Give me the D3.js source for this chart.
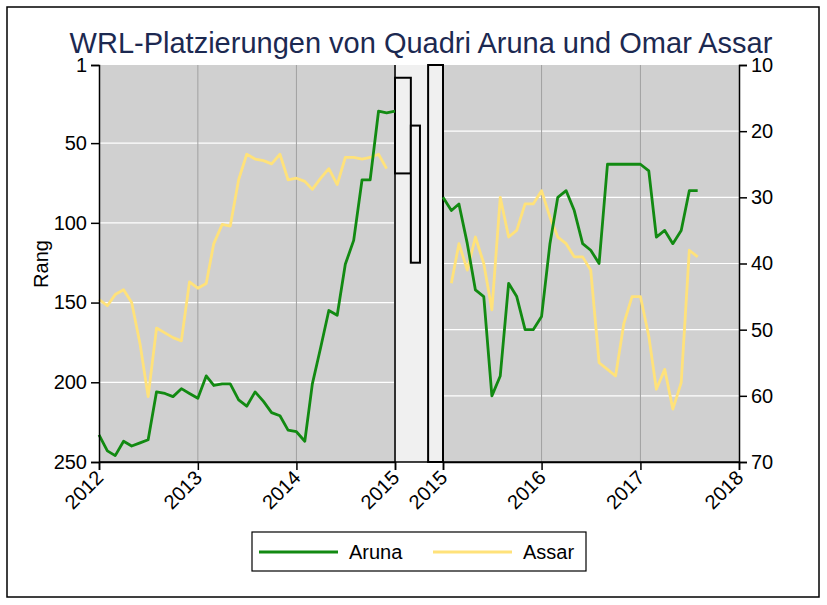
<!DOCTYPE html>
<html>
<head>
<meta charset="utf-8">
<script src="https://cdn.jsdelivr.net/npm/d3@7"></script>
<style>
  body { margin: 0; background: #fff; }
  text { font-family: "Liberation Sans", Arial, sans-serif; }
</style>
</head>
<body>
<script>
// Ränge Aruna / Assar, monatlich
const arunaLeft = [233,243,246,237,240,238,236,206,207,209,204,207,210,196,202,201,201,211,215,206,212,219,221,230,231,237,201,178,155,158,126,111,73,73,30,31,30];
const assarLeft = [148,152,145,142,150,176,209,166,169,172,174,137,141,138,113,101,102,73,57,60,61,63,57,73,72,74,79,72,66,76,59,59,60,59,57,66];
const arunaRight = [30,32,31,37,44,45,60,57,43,45,50,50,48,37,30,29,32,37,38,40,25,25,25,25,25,26,36,35,37,35,29,29];
const assarRight = [null,43,37,41,36,40,47,30,36,35,31,31,29,33,36,37,39,39,41,55,56,57,49,45,45,51,59,56,62,58,38,39];

const leftYTicks = [1, 50, 100, 150, 200, 250];
const rightYTicks = [10, 20, 30, 40, 50, 60, 70];
const leftYears = [2012, 2013, 2014, 2015];
const rightYears = [2015, 2016, 2017, 2018];

// Balken im Übergangsbereich (Rang auf linker Achse)
const gapBars = [
  {x0: 0, x1: 0.33, top: 9, bottom: 69},
  {x0: 0.33, x1: 0.52, top: 39, bottom: 125},
  {x0: 0.69, x1: 1, top: 1, bottom: 250}
];

const seriesNames = ["Aruna", "Assar"];
const colors = {Aruna: "#128a12", Assar: "#ffe27a"};

const svg = d3.select("body")
  .append("svg")
  .attr("width", 827)
  .attr("height", 605)

svg.append("rect")
  .attr("x", 7).attr("y", 7)
  .attr("width", 812).attr("height", 590)
  .attr("fill", "#fff")
  .attr("stroke", "#000")
  .attr("stroke-width", 1.5)

const plotTop = 65, plotBottom = 462;
const xL = d3.scaleTime().domain([new Date(2012, 0, 1), new Date(2015, 0, 1)]).range([99, 395]);
const xR = d3.scaleTime().domain([new Date(2015, 0, 1), new Date(2018, 0, 1)]).range([443, 739]);
const xGap = d3.scaleLinear().domain([0, 1]).range([395, 443]);
const yL = d3.scaleLinear().domain([1, 250]).range([plotTop, plotBottom]);
const yR = d3.scaleLinear().domain([10, 70]).range([plotTop, plotBottom]);

const monthsLeft = d3.timeMonth.range(new Date(2012, 0, 1), new Date(2015, 1, 1));
const monthsRight = d3.timeMonth.range(new Date(2015, 0, 1), new Date(2017, 8, 1));

// Hintergrund
svg.append("rect")
  .attr("x", 99).attr("y", plotTop)
  .attr("width", 739 - 99).attr("height", plotBottom - plotTop)
  .attr("fill", "#d0d0d0")

svg.append("rect")
  .attr("x", xGap(0)).attr("y", plotTop)
  .attr("width", xGap(1) - xGap(0)).attr("height", plotBottom - plotTop)
  .attr("fill", "#f0f0f0")

// Gitterlinien
svg.selectAll(".hgl").data(leftYTicks.slice(1, -1)).enter()
  .append("line")
  .attr("x1", 99).attr("x2", 395)
  .attr("y1", d => yL(d)).attr("y2", d => yL(d))
  .attr("stroke", "#fff").attr("stroke-width", 1.2)

svg.selectAll(".hgr").data(rightYTicks.slice(1, -1)).enter()
  .append("line")
  .attr("x1", 443).attr("x2", 739)
  .attr("y1", d => yR(d)).attr("y2", d => yR(d))
  .attr("stroke", "#fff").attr("stroke-width", 1.2)

svg.selectAll(".vgl").data(leftYears.slice(1, -1)).enter()
  .append("line")
  .attr("x1", d => xL(new Date(d, 0, 1))).attr("x2", d => xL(new Date(d, 0, 1)))
  .attr("y1", plotTop).attr("y2", plotBottom)
  .attr("stroke", "#a0a0a0").attr("stroke-width", 1)

svg.selectAll(".vgr").data(rightYears.slice(1, -1)).enter()
  .append("line")
  .attr("x1", d => xR(new Date(d, 0, 1))).attr("x2", d => xR(new Date(d, 0, 1)))
  .attr("y1", plotTop).attr("y2", plotBottom)
  .attr("stroke", "#a0a0a0").attr("stroke-width", 1)

// Übergang
svg.append("line")
  .attr("x1", xGap(0)).attr("x2", xGap(0))
  .attr("y1", plotTop).attr("y2", plotBottom)
  .attr("stroke", "#303030").attr("stroke-width", 2)

svg.append("line")
  .attr("x1", xGap(1)).attr("x2", xGap(1))
  .attr("y1", plotTop).attr("y2", plotBottom)
  .attr("stroke", "#808080").attr("stroke-width", 1.5)

svg.selectAll(".gapbar").data(gapBars).enter()
  .append("rect")
  .attr("x", d => xGap(d.x0)).attr("y", d => yL(d.top))
  .attr("width", d => xGap(d.x1) - xGap(d.x0))
  .attr("height", d => yL(d.bottom) - yL(d.top))
  .attr("fill", "#f0f0f0")
  .attr("stroke", "#000")
  .attr("stroke-width", 2)

// Linien
const lineL = d3.line()
  .defined(d => d.v != null)
  .x(d => xL(d.t)).y(d => yL(d.v))
const lineR = d3.line()
  .defined(d => d.v != null)
  .x(d => xR(d.t)).y(d => yR(d.v))

const toPts = (vals, months) => vals.map((v, i) => ({t: months[i], v: v}));

svg.append("path").attr("d", lineL(toPts(assarLeft, monthsLeft)))
  .attr("fill", "none").attr("stroke", colors.Assar).attr("stroke-width", 2.8).attr("stroke-linejoin", "round")
svg.append("path").attr("d", lineL(toPts(arunaLeft, monthsLeft)))
  .attr("fill", "none").attr("stroke", colors.Aruna).attr("stroke-width", 2.8).attr("stroke-linejoin", "round")
svg.append("path").attr("d", lineR(toPts(assarRight, monthsRight)))
  .attr("fill", "none").attr("stroke", colors.Assar).attr("stroke-width", 2.8).attr("stroke-linejoin", "round")
svg.append("path").attr("d", lineR(toPts(arunaRight, monthsRight)))
  .attr("fill", "none").attr("stroke", colors.Aruna).attr("stroke-width", 2.8).attr("stroke-linejoin", "round")

// Achsen
const fontSize = "20px";

const axL = svg.append("g")
  .attr("transform", "translate(99,0)")
  .call(d3.axisLeft(yL).tickValues(leftYTicks).tickSize(8).tickPadding(4))
const axR = svg.append("g")
  .attr("transform", "translate(739,0)")
  .call(d3.axisRight(yR).tickValues(rightYTicks).tickSize(8).tickPadding(4))

const axBL = svg.append("g")
  .attr("transform", `translate(0,${plotBottom})`)
  .call(d3.axisBottom(xL).tickValues(leftYears.map(y => new Date(y, 0, 1))).tickFormat(d3.timeFormat("%Y")).tickSize(8))
const axBR = svg.append("g")
  .attr("transform", `translate(0,${plotBottom})`)
  .call(d3.axisBottom(xR).tickValues(rightYears.map(y => new Date(y, 0, 1))).tickFormat(d3.timeFormat("%Y")).tickSize(8))

// Verbindung der x-Achse über den Übergang
svg.append("line")
  .attr("x1", 99).attr("x2", 739)
  .attr("y1", plotBottom).attr("y2", plotBottom)
  .attr("stroke", "#000").attr("stroke-width", 1.5)

for (const ax of [axL, axR, axBL, axBR]) {
  ax.selectAll("path.domain").attr("stroke", "#000").attr("stroke-width", 1.5)
  ax.selectAll(".tick line").attr("stroke", "#000").attr("stroke-width", 1.5)
  ax.selectAll("text").attr("font-size", fontSize).attr("fill", "#000")
    .attr("font-family", "Liberation Sans, Arial, sans-serif")
}
for (const ax of [axBL, axBR]) {
  ax.selectAll(".tick text")
    .attr("text-anchor", "end")
    .attr("dy", null)
    .attr("dx", null)
    .attr("y", null)
    .attr("transform", "translate(5,17) rotate(-45)")
}

// Titel
svg.append("text")
  .attr("x", 421).attr("y", 53)
  .attr("text-anchor", "middle")
  .attr("font-size", "29px")
  .attr("fill", "#1c2951")
  .text("WRL-Platzierungen von Quadri Aruna und Omar Assar")

svg.append("text")
  .attr("transform", "translate(48,264) rotate(-90)")
  .attr("text-anchor", "middle")
  .attr("font-size", fontSize)
  .attr("fill", "#000")
  .text("Rang")

// Legende
svg.append("rect")
  .attr("x", 252).attr("y", 532)
  .attr("width", 334).attr("height", 39)
  .attr("fill", "#fff").attr("stroke", "#000").attr("stroke-width", 1.2)

const legend = svg.append("g")
seriesNames.forEach((name, i) => {
  const x0 = 259 + i * 174;
  legend.append("line")
    .attr("x1", x0).attr("x2", x0 + 79)
    .attr("y1", 552).attr("y2", 552)
    .attr("stroke", colors[name]).attr("stroke-width", 2.8)
  legend.append("text")
    .attr("x", x0 + 90).attr("y", 559)
    .attr("font-size", fontSize)
    .attr("fill", "#000")
    .text(name)
})
</script>
</body>
</html>
